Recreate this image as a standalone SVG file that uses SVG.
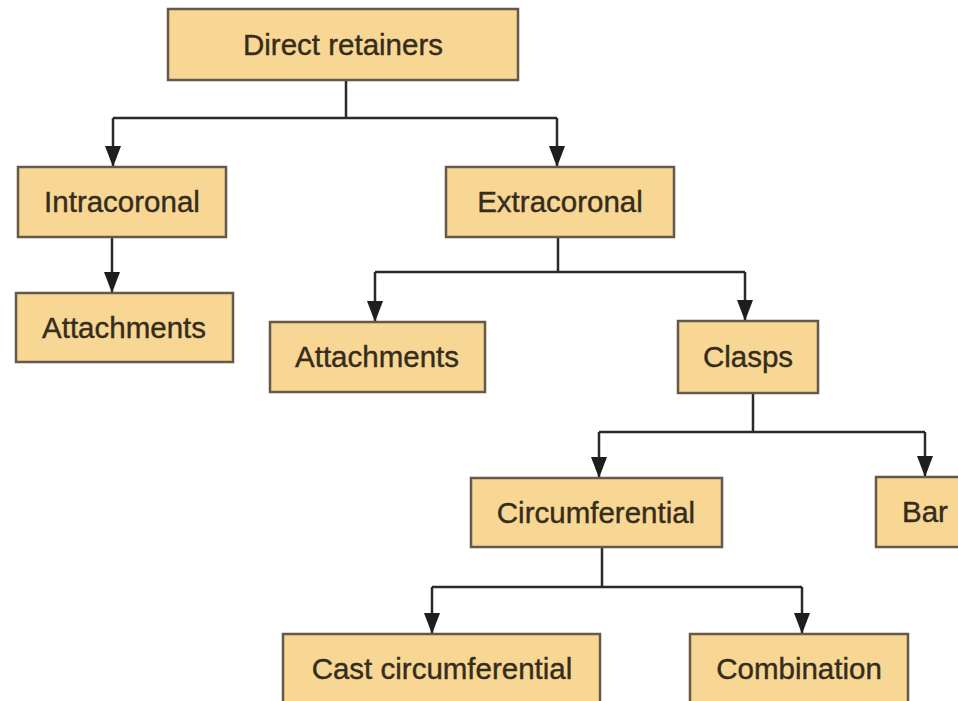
<svg xmlns="http://www.w3.org/2000/svg" width="958" height="701" viewBox="0 0 958 701">
<style>
.box{fill:#F8D794;stroke:#655a49;stroke-width:2.5}
.lbl{font-family:"Liberation Sans",Arial,sans-serif;font-size:29.5px;fill:#352c1c;text-anchor:middle;stroke:#352c1c;stroke-width:0.4}
.con{fill:none;stroke:#2a2a2a;stroke-width:2.5}
.arr{fill:none;stroke:#2a2a2a;stroke-width:2.5;marker-end:url(#ah)}
</style>
<defs>
<marker id="ah" markerUnits="userSpaceOnUse" markerWidth="21" markerHeight="16" viewBox="0 0 21 16" refX="21" refY="8" orient="auto">
<path d="M0,0 L21,8 L0,16 Z" fill="#1e1e1e"/>
</marker>
</defs>
<rect width="958" height="701" fill="#ffffff"/>
<g id="connectors">
<path class="con" d="M346,80 V118 M113,118 H557"/>
<path class="arr" d="M113,118 V167"/>
<path class="arr" d="M557,118 V167"/>
<path class="arr" d="M112,237 V293"/>
<path class="con" d="M558,237 V272 M375,272 H745"/>
<path class="arr" d="M375,272 V322"/>
<path class="arr" d="M745,272 V321"/>
<path class="con" d="M753,393 V432 M599,432 H925"/>
<path class="arr" d="M599,432 V478"/>
<path class="arr" d="M925,432 V477"/>
<path class="con" d="M602,547 V587 M432,587 H802"/>
<path class="arr" d="M432,587 V634"/>
<path class="arr" d="M802,587 V634"/>
</g>
<g id="n-direct"><rect class="box" x="168" y="9" width="350" height="71"/><text class="lbl" x="343" y="55">Direct retainers</text></g>
<g id="n-intra"><rect class="box" x="18" y="167" width="208" height="70"/><text class="lbl" x="122" y="212">Intracoronal</text></g>
<g id="n-attach-l"><rect class="box" x="16" y="293" width="217" height="69"/><text class="lbl" x="124" y="338">Attachments</text></g>
<g id="n-extra"><rect class="box" x="446" y="167" width="228" height="70"/><text class="lbl" x="560" y="212">Extracoronal</text></g>
<g id="n-attach-r"><rect class="box" x="270" y="322" width="215" height="70"/><text class="lbl" x="377" y="367">Attachments</text></g>
<g id="n-clasps"><rect class="box" x="678" y="321" width="140" height="72"/><text class="lbl" x="748" y="367">Clasps</text></g>
<g id="n-circ"><rect class="box" x="471" y="478" width="251" height="69"/><text class="lbl" x="596" y="523">Circumferential</text></g>
<g id="n-bar"><rect class="box" x="876" y="477" width="90" height="70"/><text class="lbl" x="925" y="522">Bar</text></g>
<g id="n-cast"><rect class="box" x="283" y="634" width="317" height="72"/><text class="lbl" x="442" y="679">Cast circumferential</text></g>
<g id="n-comb"><rect class="box" x="690" y="634" width="218" height="72"/><text class="lbl" x="799" y="679">Combination</text></g>
</svg>
